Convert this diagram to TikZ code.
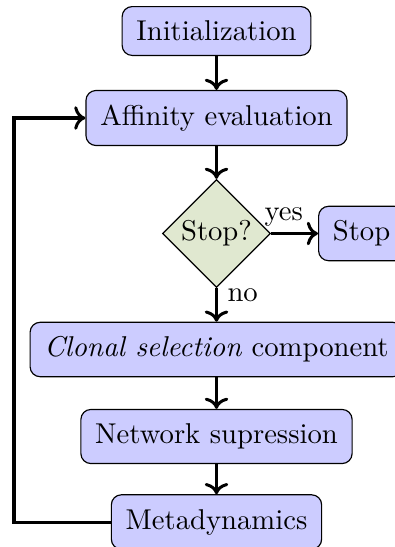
\documentclass[tikz,border=0pt]{standalone}
\usetikzlibrary{shapes.geometric,arrows.meta}
\definecolor{boxblue}{RGB}{204,204,255}
\definecolor{decgreen}{RGB}{224,232,208}
\begin{document}
\begin{tikzpicture}[x=0.349pt,y=-0.349pt,
  stepbox/.style={draw, fill=boxblue, rounded corners=3.5pt, inner sep=5pt},
  decision/.style={draw, diamond, fill=decgreen, inner sep=1pt,
    minimum width=37.3pt, minimum height=37.3pt},
  flow/.style={->, line width=1.05pt}]
\useasboundingbox (0,0) rectangle (395,547);
\node[stepbox] (init) at (216.5,31) {Initialization};
\node[stepbox] (aff) at (216.5,118) {Affinity evaluation};
\node[decision] (dec) at (216.5,233.5) {Stop?};
\node[stepbox, anchor=west] (stop) at (318,233.5) {Stop};
\node[stepbox] (clonal) at (216.5,349.5) {\textit{Clonal selection} component};
\node[stepbox] (net) at (216.5,436.5) {Network supression};
\node[stepbox] (meta) at (216.5,522) {Metadynamics};
\coordinate (loopb) at (14,522);
\coordinate (loopt) at (14,118);
\draw[flow] (init) -- (aff);
\draw[flow] (aff) -- (dec);
\draw[flow] (dec) -- node[above, pos=0.27, inner sep=2pt] {yes} (stop);
\draw[flow] (dec) -- node[right, pos=0.22] {no} (clonal);
\draw[flow] (clonal) -- (net);
\draw[flow] (net) -- (meta);
\draw[flow] (meta.west) -- (loopb) -- (loopt) -- (aff.west);
\end{tikzpicture}
\end{document}
